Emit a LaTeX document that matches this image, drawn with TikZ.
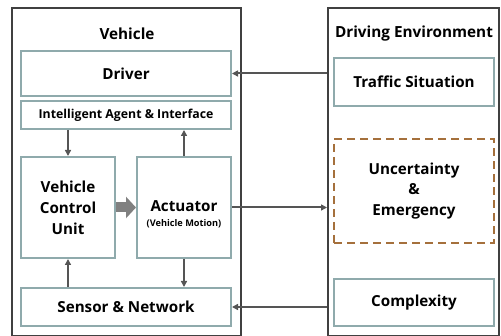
\documentclass[tikz,border=0pt]{standalone}
\usepackage{fontspec}
\setmainfont{Open Sans}
\usetikzlibrary{positioning, arrows.meta, calc}

\definecolor{framegray}{HTML}{404040}
\definecolor{boxteal}{HTML}{8FAAAC}
\definecolor{dashbrown}{HTML}{A5703C}
\definecolor{linkgray}{HTML}{555555}
\definecolor{flowgray}{HTML}{808080}

\begin{document}
\begin{tikzpicture}[
    x=1pt, y=-1pt,
    font=\bfseries,
    % Styles
    frame/.style={
        draw=framegray, line width=2pt, rectangle, inner sep=0pt
    },
    block/.style={
        draw=boxteal, line width=2pt, fill=white, rectangle, align=center, inner sep=0pt,
        font=\bfseries\fontsize{15.2}{21}\selectfont
    },
    hazard/.style={
        draw=dashbrown, line width=2pt, dash pattern=on 8pt off 5pt, rectangle, align=center,
        inner sep=0pt, font=\bfseries\fontsize{15.2}{20.5}\selectfont
    },
    title/.style={font=\bfseries\fontsize{15.3}{18}\selectfont},
    arrow/.style={-{Triangle[length=6pt, width=6pt]}, line width=2pt, linkgray},
    flow/.style={-{Triangle[length=10pt, width=21pt]}, line width=10pt, flowgray}
]
    \useasboundingbox (0,0) rectangle (501,336);

    % --- VEHICLE SIDE ---
    \node[frame, minimum width=229pt, minimum height=328pt] (veh) at (126.5,172) {};
    \node[title] (vehtitle) at (127,34) {Vehicle};

    \node[block, minimum width=210pt, minimum height=45pt] (driver) at (126,73.5) {Driver};
    \node[block, minimum width=210pt, minimum height=28pt, font=\bfseries\fontsize{12.3}{14}\selectfont] (agent) at (126,115) {Intelligent Agent \& Interface};
    \node[block, minimum width=94pt, minimum height=101pt] (vcu) at (68,207.5) {Vehicle\\Control\\Unit};
    \node[block, minimum width=94pt, minimum height=101pt] (act) at (184,207.5)
        {\rule{0pt}{24pt}Actuator\\[-6pt]{\fontsize{9.2}{10}\selectfont(Vehicle Motion)}};
    \node[block, minimum width=210pt, minimum height=38pt] (sensor) at (126,307) {Sensor \& Network};

    % --- ENVIRONMENT SIDE ---
    \node[frame, minimum width=171pt, minimum height=328pt] (env) at (413.5,172) {};
    \node[title] (envtitle) at (414,34) {Driving Environment};

    \node[block, minimum width=160pt, minimum height=48pt] (traffic) at (414,82) {Traffic Situation};
    \node[hazard, minimum width=160pt, minimum height=104pt] (uncert) at (414,191) {Uncertainty\\\&\\Emergency};
    \node[block, minimum width=160pt, minimum height=47pt] (complex) at (414,302.5) {Complexity};

    % --- CONNECTIONS ---
    % inside the vehicle
    \draw[arrow] (vcu.north |- agent.south) -- (vcu.north);
    \draw[arrow] (act.north) -- (act.north |- agent.south);
    \draw[arrow] (vcu.south |- sensor.north) -- (vcu.south);
    \draw[arrow] (act.south) -- (act.south |- sensor.north);
    \draw[flow] (vcu.east) -- (act.west);

    % between vehicle and environment
    \draw[arrow] (env.west |- driver.east) -- (driver.east);
    \draw[arrow] (act.east) -- (act.east -| env.west);
    \draw[arrow] (env.west |- sensor.east) -- (sensor.east);

\end{tikzpicture}
\end{document}
